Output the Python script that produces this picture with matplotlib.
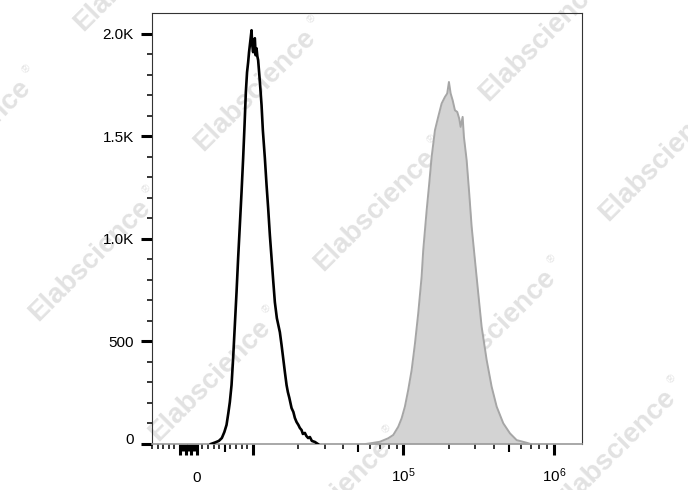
import numpy as np
import matplotlib
matplotlib.use('Agg')
import matplotlib.pyplot as plt
from matplotlib import transforms

plt.rcParams['font.family'] = ['Liberation Sans', 'DejaVu Sans']
plt.rcParams['mathtext.fontset'] = 'custom'
plt.rcParams['mathtext.rm'] = 'Liberation Sans'

# unstained control (black outline)
ctrl_x = [2500, 3214, 3929, 4464, 4911, 5304, 5625, 5893, 6196, 6482, 6786, 7089,
          7375, 7679, 7982, 8268, 8518, 8750, 8964, 9161, 9321, 9464, 9607, 9768,
          9875, 10046, 10154, 10311, 10438, 10582, 10713, 10844, 11046, 11216,
          11424, 11653, 12017, 12334, 12640, 12972, 13313, 13643, 14002, 14438,
          15115, 15514, 15898, 16318, 16748, 17086, 17482, 18078, 18583, 19015,
          19516, 20059, 20526, 21068, 21490, 22158, 22675, 23305, 23920, 24660,
          25823, 27034]
ctrl_count = [0, 7, 15, 29, 58, 93, 151, 204, 287, 419, 579, 740,
              906, 1066, 1227, 1392, 1553, 1714, 1811, 1860, 1909, 1943, 1977, 2016,
              1948, 1909, 1967, 1977, 1894, 1928, 1889, 1870, 1797, 1733,
              1651, 1529, 1393, 1261, 1149, 1018, 906, 799, 691, 613,
              545, 482, 419, 351, 287, 253, 224, 175, 156, 127,
              107, 93, 78, 68, 49, 54, 39, 29, 34, 15,
              10, 0]

# stained sample (grey filled)
stain_x = [56000, 59900, 69800, 79300, 85600, 92400, 97300, 102300, 107600, 113400,
           119300, 125400, 132100, 135400, 142700, 148400, 154000, 162000, 170300,
           179400, 188700, 195400, 200600, 205900, 212300, 219900, 227800, 234900,
           239900, 247400, 252300, 263000, 273600, 283900, 298600, 314100, 330800,
           357200, 385500, 416300, 460500, 510100, 565200, 658700, 700000]
stain_count = [0, 3, 11, 28, 44, 84, 125, 182, 263, 360,
               489, 636, 815, 944, 1139, 1269, 1399, 1529, 1594,
               1659, 1691, 1708, 1764, 1708, 1675, 1626, 1618, 1585,
               1545, 1594, 1496, 1383, 1221, 1059, 896, 734, 571,
               409, 279, 182, 101, 52, 19, 6, 0]

y_ticks = [0, 500, 1000, 1500, 2000]
y_labels = ['0', '500', '1.0K', '1.5K', '2.0K']
x_major = [0, 1e4, 1e5, 1e6]
x_labels = ['0', '', r'$\mathregular{10^5}$', r'$\mathregular{10^6}$']
x_minor = [-8000, -7000, -6000, -5000, -4000, 1000, 2000, 3000, 4000, 6000, 7000,
           8000, 9000, 2e4, 3e4, 4e4, 6e4, 7e4, 8e4, 9e4, 2e5, 3e5, 4e5, 6e5, 7e5,
           8e5, 9e5]
x_mid = [5000, 5e4, 5e5]
x_block_long = [-3000, -2000, -1000]
x_block_short = [-2500, -1500, -500]


# FlowJo-like biexponential axis: linear up to 1e4, log above
def fwd(x):
    x = np.asarray(x, dtype=float)
    lg = 56.0 + 150.5 * np.log10(np.maximum(x, 1e4) / 1e4)
    return np.where(x <= 1e4, x / 1e4 * 56.0, lg)


def inv(p):
    p = np.asarray(p, dtype=float)
    lg = 1e4 * 10 ** ((np.minimum(p, 2000.0) - 56.0) / 150.5)
    return np.where(p <= 56.0, p / 56.0 * 1e4, lg)


fig = plt.figure(figsize=(6.88, 4.90), dpi=100)
fig.patch.set_facecolor('white')
ax = fig.add_axes([152 / 688, 46 / 490, 430 / 688, 431 / 490])
ax.patch.set_alpha(0)
ax.set_xscale('function', functions=(fwd, inv))
ax.set_xlim(-8000, 1.535e6)
ax.set_ylim(0, 2100)

ax.fill_between(stain_x, stain_count, color='#d3d3d3', lw=0, zorder=2)
ax.plot(stain_x, stain_count, color='#a6a6a6', lw=1.4, zorder=3)
ax.plot(ctrl_x, ctrl_count, color='black', lw=1.9, zorder=4)

# ticks
ax.set_yticks(y_ticks)
ax.set_yticklabels(y_labels)
ax.set_yticks(np.arange(0, 2100, 100), minor=True)
ax.set_xticks(x_major)
ax.set_xticklabels(x_labels)
ax.set_xticks(x_minor, minor=True)
ax.tick_params(which='major', length=8, width=2.2, color='black', labelsize=11)
ax.tick_params(which='minor', length=3.6, width=1.1, color='black')
ax.tick_params(axis='y', which='major', pad=5)
ax.tick_params(axis='x', which='major', pad=19)
for lab in ax.get_xticklabels():
    lab.set_verticalalignment('baseline')
off = transforms.ScaledTranslation(0, 0.06, fig.dpi_scale_trans)
ylab0 = ax.get_yticklabels()[0]
ylab0.set_transform(ylab0.get_transform() + off)

xt = ax.get_xaxis_transform()
ax.plot(x_mid, [0] * len(x_mid), transform=xt, ls='none', marker=3, ms=5.8,
        mew=1.5, color='black', clip_on=False)
ax.plot(x_block_long, [0] * 3, transform=xt, ls='none', marker=3, ms=8,
        mew=2.2, color='black', clip_on=False)
ax.plot(x_block_short, [0] * 3, transform=xt, ls='none', marker=3, ms=5,
        mew=2.2, color='black', clip_on=False)

for s in ['left', 'top', 'right']:
    ax.spines[s].set_color('#333333')
    ax.spines[s].set_linewidth(0.8)
ax.spines['bottom'].set_color('#9a9a9a')
ax.spines['bottom'].set_linewidth(1.2)

# watermark
wm = [(135, -30), (255, 90), (375, 210), (495, 330), (615, 450), (540, 40),
      (660, 160), (-30, 140), (90, 260), (210, 380), (330, 500)]
for cx, cy in wm:
    fig.text(cx / 688, 1 - cy / 490, 'Elabscience', rotation=45, ha='center',
             va='center', rotation_mode='anchor', fontsize=20, fontweight='bold',
             color='#e2e2e2', zorder=-1)
    fig.text((cx + 57) / 688, 1 - (cy - 71) / 490, '\u00ae', rotation=45,
             ha='center', va='center', fontsize=8, color='#e2e2e2', zorder=-1)

fig.savefig('out.png', dpi=100)
